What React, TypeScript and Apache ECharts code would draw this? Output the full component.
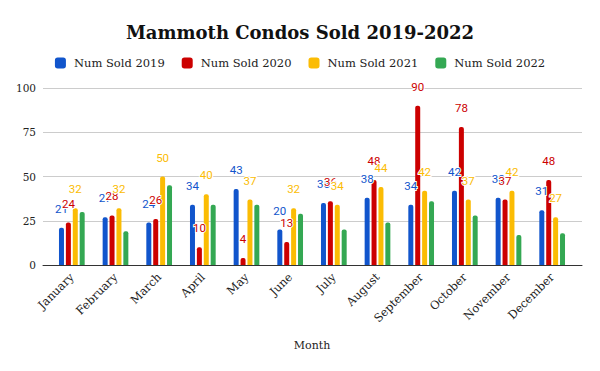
import React, { useEffect, useRef } from "react";
import * as echarts from "echarts";

const months = ["January","February","March","April","May","June","July","August","September","October","November","December"];
const seriesNames = ["Num Sold 2019","Num Sold 2020","Num Sold 2021","Num Sold 2022"];
const sold2019 = [21,27,24,34,43,20,35,38,34,42,38,31];
const sold2020 = [24,28,26,10,4,13,36,48,90,78,37,48];
const sold2021 = [32,32,50,40,37,32,34,44,42,37,42,27];
const sold2022 = [30,19,45,34,34,29,20,24,36,28,17,18];
const yTicks = { min: 0, max: 100, interval: 25 };
const colors = ["#1155cc","#cc0000","#fbbc04","#34a853"];
const showLabels = [true,true,true,false];

export default function App() {
  const ref = useRef<HTMLDivElement>(null);
  useEffect(() => {
    document.body.style.margin = "0";
    const chart = echarts.init(ref.current!, undefined, { renderer: "svg" });
    const data = [sold2019, sold2020, sold2021, sold2022];
    const serif = "DejaVu Serif";
    chart.setOption({
      animation: false,
      backgroundColor: "#ffffff",
      title: {
        text: "Mammoth Condos Sold 2019-2022",
        left: "center",
        top: 18,
        textStyle: { fontFamily: serif, fontWeight: "bold", fontSize: 18, color: "#111" },
      },
      legend: {
        top: 52,
        left: "center",
        itemWidth: 11,
        itemHeight: 11,
        itemGap: 17,
        icon: "roundRect",
        textStyle: { fontFamily: serif, fontSize: 11.5, color: "#222", padding: [0, 0, 0, 3] },
        data: seriesNames,
      },
      grid: [
        { left: 43, right: 18, top: 88, bottom: 106, containLabel: false },
        { left: 50, right: 26, top: 88, bottom: 106, containLabel: false },
      ],
      xAxis: [
        {
          gridIndex: 0,
          type: "category",
          data: months,
          axisTick: { show: false },
          axisLabel: { show: false },
          axisLine: { lineStyle: { color: "#333", width: 1 } },
        },
        {
          gridIndex: 1,
          type: "category",
          data: months,
          name: "Month",
          nameLocation: "middle",
          nameGap: 75,
          nameTextStyle: { fontFamily: serif, fontSize: 11, color: "#222" },
          axisTick: { show: false },
          axisLine: { show: false },
          axisLabel: { rotate: 45, fontFamily: serif, fontSize: 11.5, color: "#222", margin: 10, interval: 0 },
        },
      ],
      yAxis: [
        {
          gridIndex: 0,
          type: "value",
          min: yTicks.min,
          max: yTicks.max,
          interval: yTicks.interval,
          axisLabel: { fontFamily: serif, fontSize: 10.5, color: "#222", margin: 7 },
          splitLine: { lineStyle: { color: "#cccccc" } },
          axisLine: { show: false },
          axisTick: { show: false },
        },
        {
          gridIndex: 1,
          type: "value",
          min: yTicks.min,
          max: yTicks.max,
          interval: yTicks.interval,
          show: false,
          splitLine: { show: false },
        },
      ],
      series: data.map((d, i) => ({
        name: seriesNames[i],
        type: "bar",
        xAxisIndex: 1,
        yAxisIndex: 1,
        data: d,
        barWidth: 5,
        barGap: "38%",
        itemStyle: { color: colors[i], borderRadius: [2, 2, 0, 0] },
        label: {
          show: showLabels[i],
          position: "top",
          distance: 13,
          fontFamily: "Roboto",
          fontSize: 11.5,
          color: colors[i],
          textBorderColor: "#ffffff",
          textBorderWidth: 2,
        },
      })),
    });
    return () => chart.dispose();
  }, []);
  return <div ref={ref} style={{ width: 600, height: 371 }} />;
}
